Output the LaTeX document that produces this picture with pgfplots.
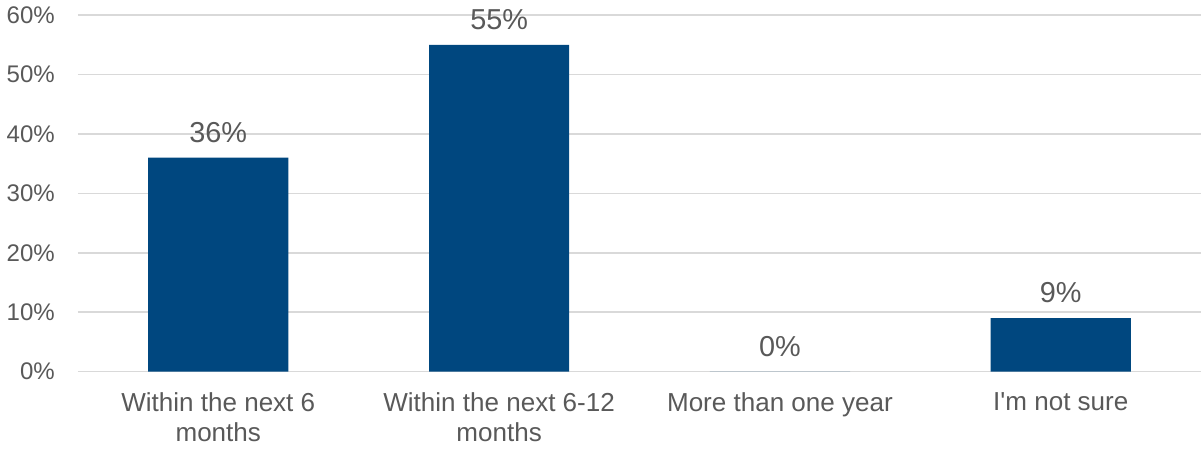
\documentclass[border=0pt]{standalone}
\usepackage{pgfplots}
\pgfplotsset{compat=1.18}
\usepackage{fontspec}
\setmainfont{Liberation Sans}
\definecolor{barblue}{HTML}{00477F}
\definecolor{txtgrey}{HTML}{595959}
\definecolor{gridgrey}{HTML}{D9D9D9}
\begin{document}
\begin{tikzpicture}
\begin{axis}[
  scale only axis,
  width=561pt, height=178pt,
  xmin=-0.5, xmax=3.5,
  ymin=0, ymax=60,
  ytick={0,10,...,60},
  yticklabel={\pgfmathprintnumber{\tick}\%},
  xtick={0,1,2,3},
  xticklabels={Within the next 6\\months, Within the next 6-12\\months, More than one year, I\textquotesingle m not sure},
  xticklabel style={align=center, font=\fontsize{13}{15}\selectfont, text=txtgrey, yshift=-7pt},
  yticklabel style={font=\fontsize{12}{14}\selectfont, text=txtgrey, xshift=-8pt},
  /pgf/number format/assume math mode=true,
  axis line style={draw=none},
  major tick length=0pt,
  ymajorgrids,
  grid style={gridgrey, line width=0.8pt},
  ybar,
  bar width=70pt,
  nodes near coords={\pgfmathprintnumber{\pgfplotspointmeta}\%},
  every node near coord/.append style={font=\fontsize{14.4}{16}\selectfont, text=txtgrey, yshift=4pt},
  clip=false,
]
\addplot[fill=barblue, draw=none] coordinates {(0,36) (1,55) (2,0) (3,9)};
\end{axis}
\end{tikzpicture}
\end{document}
